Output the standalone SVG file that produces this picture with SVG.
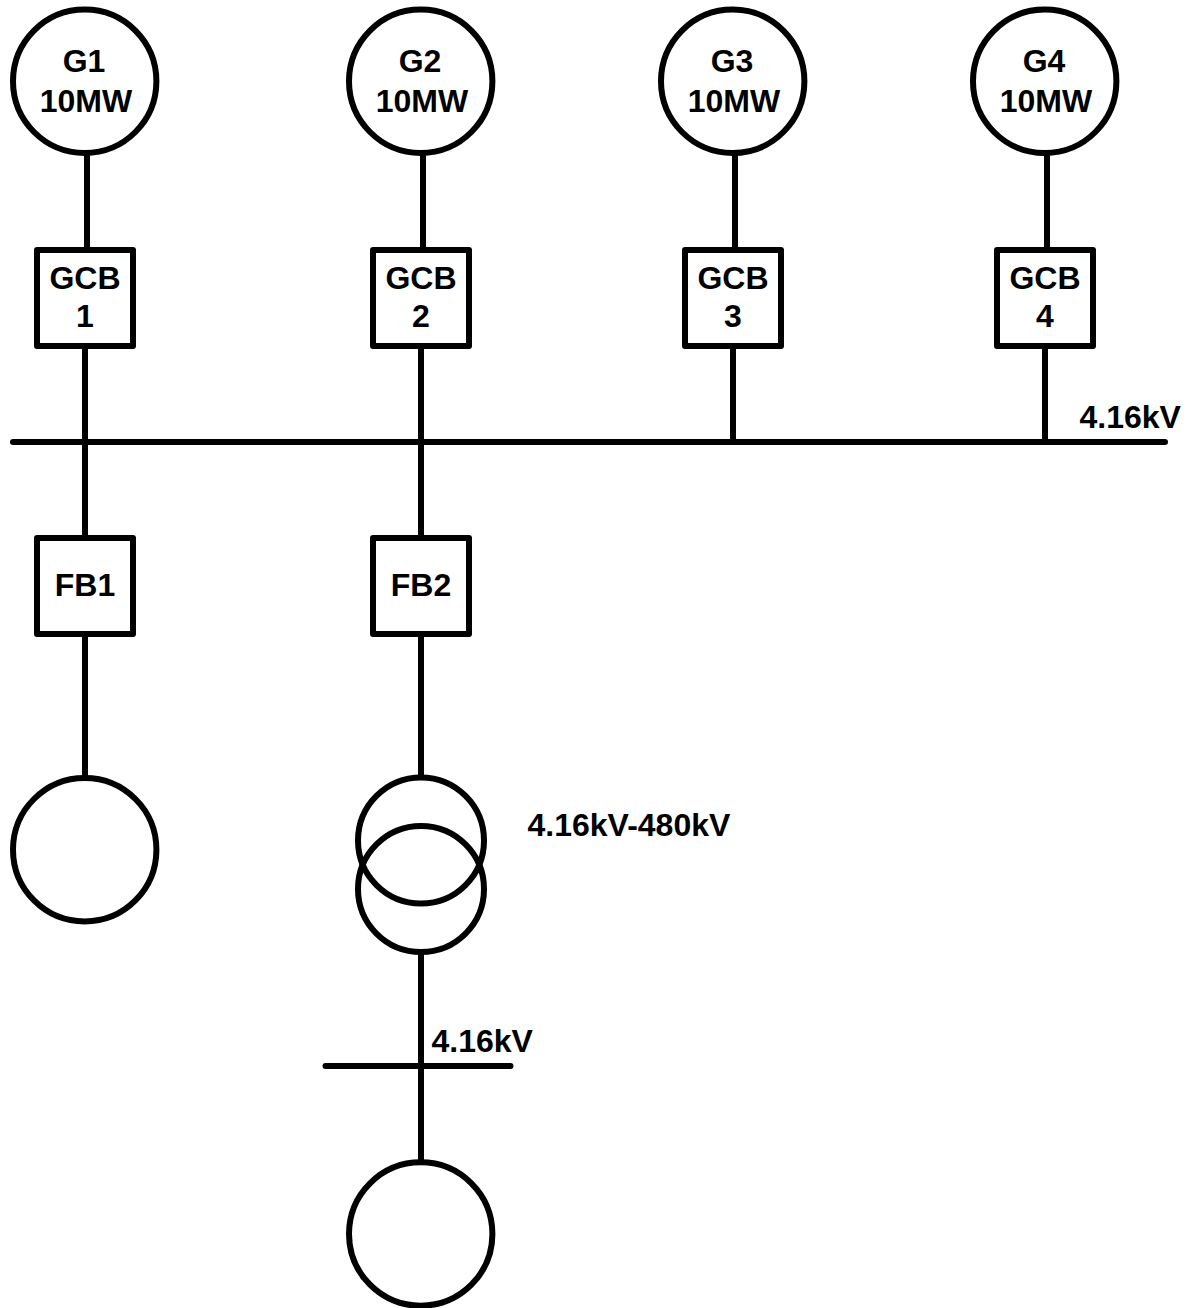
<svg xmlns="http://www.w3.org/2000/svg" width="1187" height="1308" viewBox="0 0 1187 1308">
<style>
.s{fill:none;stroke:#000;stroke-width:6;stroke-linecap:round;stroke-linejoin:round}
.b{fill:#fff;stroke:#000;stroke-width:6;stroke-linejoin:round}
text{font-family:"Liberation Sans",Arial,sans-serif;font-weight:bold;font-size:32px;fill:#000;text-anchor:middle}
.l{text-anchor:start}
</style>
<rect width="1187" height="1308" fill="#fff"/>
<g id="connectors">
<path class="s" d="M87 152V249M423 152V249M735 152V249M1047 152V249"/>
<path class="s" d="M85 346V538M421 346V538M733 346V441.5M1045 346V441.5"/>
<path class="s" d="M13 442H1165"/>
<path class="s" d="M85 634V777M421 634V777M421 952V1162M325.500 1066H510.500"/>
</g>
<g id="G1"><circle class="b" cx="84.700" cy="81.300" r="71.700"/><text x="84" y="71.500">G1</text><text x="86" y="111.500">10MW</text></g>
<g id="G2"><circle class="b" cx="420.700" cy="81.300" r="71.700"/><text x="420" y="71.500">G2</text><text x="422" y="111.500">10MW</text></g>
<g id="G3"><circle class="b" cx="732.700" cy="81.300" r="71.700"/><text x="732" y="71.500">G3</text><text x="734" y="111.500">10MW</text></g>
<g id="G4"><circle class="b" cx="1044.700" cy="81.300" r="71.700"/><text x="1044" y="71.500">G4</text><text x="1046" y="111.500">10MW</text></g>
<g id="GCB1"><rect class="b" x="37" y="250" width="96" height="96"/><text x="85" y="288.500">GCB</text><text x="85" y="327">1</text></g>
<g id="GCB2"><rect class="b" x="373" y="250" width="96" height="96"/><text x="421" y="288.500">GCB</text><text x="421" y="327">2</text></g>
<g id="GCB3"><rect class="b" x="685" y="250" width="96" height="96"/><text x="733" y="288.500">GCB</text><text x="733" y="327">3</text></g>
<g id="GCB4"><rect class="b" x="997" y="250" width="96" height="96"/><text x="1045" y="288.500">GCB</text><text x="1045" y="327">4</text></g>
<g id="FB1"><rect class="b" x="37" y="538" width="96" height="96"/><text x="85" y="596">FB1</text></g>
<g id="FB2"><rect class="b" x="373" y="538" width="96" height="96"/><text x="421" y="596">FB2</text></g>
<g id="Load1"><circle class="b" cx="84.700" cy="849.700" r="71.700"/></g>
<g id="Transformer"><circle class="s" cx="421" cy="840.500" r="63"/><circle class="s" cx="421" cy="889" r="63"/></g>
<g id="Load2"><circle class="b" cx="420.700" cy="1234" r="71.700"/></g>
<g id="labels">
<text class="l" x="1079.500" y="428">4.16kV</text>
<text class="l" x="527.500" y="836">4.16kV-480kV</text>
<text class="l" x="431.500" y="1052">4.16kV</text>
</g>
</svg>
